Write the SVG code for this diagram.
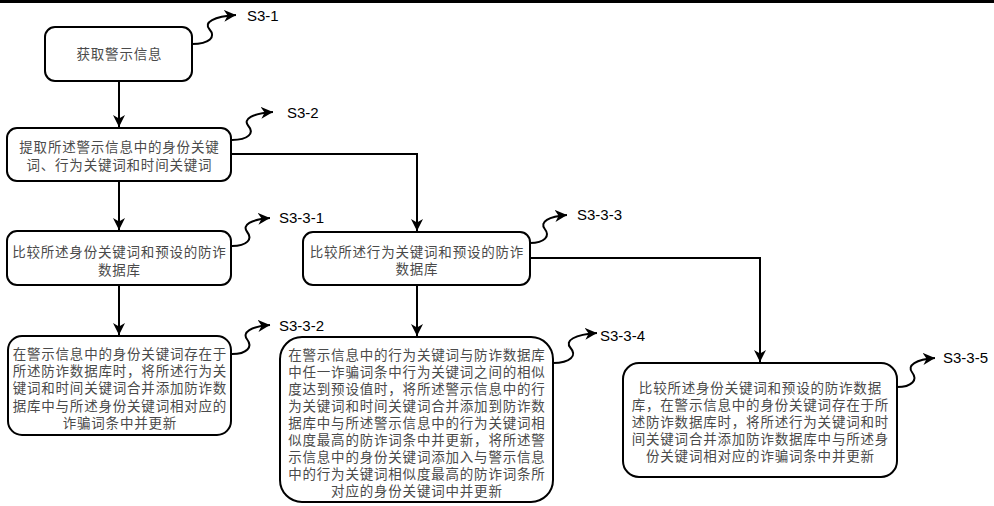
<svg xmlns="http://www.w3.org/2000/svg" width="994" height="506" viewBox="0 0 994 506">
  <style>
    .box { fill: #ffffff; stroke: #000000; stroke-width: 2; }
    .txt { font-family: "Noto Sans CJK SC", "Noto Sans", sans-serif; font-size: 13.5px; letter-spacing: 0.8px; fill: #4a4a4a; text-anchor: middle; }
    .lbl { font-family: "Liberation Sans", Arial, sans-serif; font-size: 15px; fill: #000000; }
    .edge { fill: none; stroke: #000000; stroke-width: 2; }
    .sq { fill: none; stroke: #000000; stroke-width: 2; }
  </style>
  <defs>
    <marker id="arrow" markerUnits="userSpaceOnUse" markerWidth="12" markerHeight="12" refX="10" refY="5" orient="auto" viewBox="0 0 10 10">
      <path d="M0,0 L10,5 L0,10 L3,5 z" fill="#000000"/>
    </marker>
  </defs>
  <rect x="0" y="0" width="994" height="506" fill="#ffffff"/>
  <rect x="0" y="0" width="994" height="3" fill="#000000"/>

  <g id="connectors">
    <path class="edge" d="M119,81 L119,127" marker-end="url(#arrow)"/>
    <path class="edge" d="M119,181 L119,230" marker-end="url(#arrow)"/>
    <path class="edge" d="M119,285 L119,335" marker-end="url(#arrow)"/>
    <path class="edge" d="M231,154 L417,154 L417,231" marker-end="url(#arrow)"/>
    <path class="edge" d="M417,285 L417,336" marker-end="url(#arrow)"/>
    <path class="edge" d="M530,258 L760,258 L760,362" marker-end="url(#arrow)"/>
  </g>

  <g id="squiggles">
    <path class="sq" d="M192,44 C209.6,44 216.2,36.75 209.6,29.5 C203,22.25 214,16.45 236,15" marker-end="url(#arrow)"/>
    <path class="sq" d="M232,140 C248.4,140 254.6,133 248.4,126 C242.3,119 252.5,113.4 273,112" marker-end="url(#arrow)"/>
    <path class="sq" d="M232,246 C247.2,246 252.9,239 247.2,232 C241.5,225 251,219.4 270,218" marker-end="url(#arrow)"/>
    <path class="sq" d="M232,354 C247.2,354 252.9,346.75 247.2,339.5 C241.5,332.25 251,326.45 270,325" marker-end="url(#arrow)"/>
    <path class="sq" d="M530,243 C544.8,243 550.4,236 544.8,229 C539.3,222 548.5,216.4 567,215" marker-end="url(#arrow)"/>
    <path class="sq" d="M553,363 C570.6,363 577.2,355.5 570.6,348 C564,340.5 575,334.5 597,333" marker-end="url(#arrow)"/>
    <path class="sq" d="M897,387 C912.2,387 917.9,379.75 912.2,372.5 C906.5,365.25 916,359.45 935,358" marker-end="url(#arrow)"/>
  </g>

  <g id="S3-1">
    <rect class="box" x="45" y="27" width="147" height="54" rx="10"/>
    <text class="txt" x="119.4" y="59">获取警示信息</text>
    <text class="lbl" x="247" y="21">S3-1</text>
  </g>

  <g id="S3-2">
    <rect class="box" x="7" y="128" width="224" height="53" rx="10"/>
    <text class="txt"><tspan x="119.4" y="152">提取所述警示信息中的身份关键</tspan><tspan x="119.4" y="170">词、行为关键词和时间关键词</tspan></text>
    <text class="lbl" x="287" y="118">S3-2</text>
  </g>

  <g id="S3-3-1">
    <rect class="box" x="7" y="231" width="224" height="54" rx="10"/>
    <text class="txt"><tspan x="119.4" y="257">比较所述身份关键词和预设的防诈</tspan><tspan x="119.4" y="275">数据库</tspan></text>
    <text class="lbl" x="279" y="223">S3-3-1</text>
  </g>

  <g id="S3-3-2">
    <rect class="box" x="8" y="336" width="223" height="99" rx="14"/>
    <text class="txt"><tspan x="119.9" y="359">在警示信息中的身份关键词存在于</tspan><tspan x="119.9" y="376">所述防诈数据库时，将所述行为关</tspan><tspan x="119.9" y="393">键词和时间关键词合并添加防诈数</tspan><tspan x="119.9" y="411">据库中与所述身份关键词相对应的</tspan><tspan x="119.9" y="428">诈骗词条中并更新</tspan></text>
    <text class="lbl" x="279" y="331">S3-3-2</text>
  </g>

  <g id="S3-3-3">
    <rect class="box" x="303" y="232" width="227" height="53" rx="10"/>
    <text class="txt"><tspan x="416.9" y="257">比较所述行为关键词和预设的防诈</tspan><tspan x="416.9" y="274">数据库</tspan></text>
    <text class="lbl" x="577" y="220">S3-3-3</text>
  </g>

  <g id="S3-3-4">
    <rect class="box" x="280" y="337" width="273" height="165" rx="22"/>
    <text class="txt"><tspan x="416.9" y="360">在警示信息中的行为关键词与防诈数据库</tspan><tspan x="416.9" y="377">中任一诈骗词条中行为关键词之间的相似</tspan><tspan x="416.9" y="394">度达到预设值时，将所述警示信息中的行</tspan><tspan x="416.9" y="411">为关键词和时间关键词合并添加到防诈数</tspan><tspan x="416.9" y="428">据库中与所述警示信息中的行为关键词相</tspan><tspan x="416.9" y="445">似度最高的防诈词条中并更新，将所述警</tspan><tspan x="416.9" y="462">示信息中的身份关键词添加入与警示信息</tspan><tspan x="416.9" y="479">中的行为关键词相似度最高的防诈词条所</tspan><tspan x="416.9" y="496">对应的身份关键词中并更新</tspan></text>
    <text class="lbl" x="600" y="341">S3-3-4</text>
  </g>

  <g id="S3-3-5">
    <rect class="box" x="623" y="363" width="274" height="114" rx="16"/>
    <text class="txt"><tspan x="760.4" y="393">比较所述身份关键词和预设的防诈数据</tspan><tspan x="760.4" y="410">库，在警示信息中的身份关键词存在于所</tspan><tspan x="760.4" y="427">述防诈数据库时，将所述行为关键词和时</tspan><tspan x="760.4" y="444">间关键词合并添加防诈数据库中与所述身</tspan><tspan x="760.4" y="461">份关键词相对应的诈骗词条中并更新</tspan></text>
    <text class="lbl" x="943" y="363">S3-3-5</text>
  </g>
</svg>
